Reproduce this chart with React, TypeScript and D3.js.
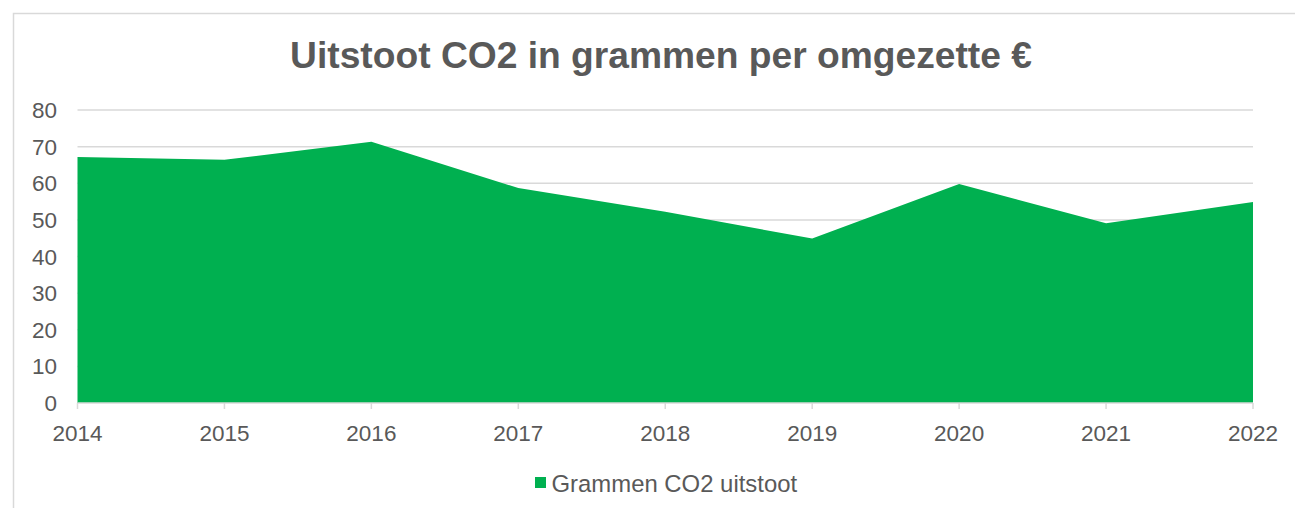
import React from 'react';
import * as d3 from 'd3';

const years = ['2014', '2015', '2016', '2017', '2018', '2019', '2020', '2021', '2022'];
const emissions = [67.2, 66.4, 71.3, 58.7, 52.2, 44.9, 59.8, 49.1, 54.9];
const yTicks = [0, 10, 20, 30, 40, 50, 60, 70, 80];

const title = 'Uitstoot CO2 in grammen per omgezette €';
const seriesName = 'Grammen CO2 uitstoot';

const width = 1295;
const height = 508;
const margin = { left: 77.5, right: 42, top: 110, bottom: 105 };

const textColor = '#595959';
const gridColor = '#d9d9d9';
const green = '#00b050';
const font = '"Liberation Sans", Arial, sans-serif';

const App = () => {
  const x = d3
    .scalePoint()
    .domain(years)
    .range([margin.left, width - margin.right]);

  const y = d3
    .scaleLinear()
    .domain([0, 80])
    .range([height - margin.bottom, margin.top]);

  const points = years.map((year, i) => ({ year, value: emissions[i] }));

  const area = d3
    .area<{ year: string; value: number }>()
    .x((d) => x(d.year) as number)
    .y0(y(0))
    .y1((d) => y(d.value));

  const plotRight = width - margin.right;
  const legendX = 535;

  return (
    <div style={{ position: 'fixed', left: 0, top: 0 }}>
      <svg width={width} height={height} style={{ display: 'block', background: '#fff' }}>
        {/* chart frame, runs off the right and bottom edge */}
        <rect x={13.5} y={13.5} width={1400} height={600} fill="#fff" stroke={gridColor} strokeWidth={1.5} />

        <text
          x={661}
          y={68}
          textAnchor="middle"
          fontFamily={font}
          fontWeight="bold"
          fontSize={37.2}
          fill={textColor}
        >
          {title}
        </text>

        {yTicks.map((t) => (
          <g key={t}>
            {t > 0 && (
              <line
                x1={margin.left}
                x2={plotRight}
                y1={y(t)}
                y2={y(t)}
                stroke={gridColor}
                strokeWidth={1.5}
              />
            )}
            <text
              x={57}
              y={y(t)}
              dy="0.36em"
              textAnchor="end"
              fontFamily={font}
              fontSize={22.5}
              fill={textColor}
            >
              {t}
            </text>
          </g>
        ))}

        <path d={area(points) || ''} fill={green} />

        <line
          x1={margin.left}
          x2={plotRight}
          y1={y(0)}
          y2={y(0)}
          stroke={gridColor}
          strokeWidth={1.5}
        />

        {years.map((year) => (
          <g key={year}>
            <line
              x1={x(year)}
              x2={x(year)}
              y1={y(0)}
              y2={y(0) + 6}
              stroke={gridColor}
              strokeWidth={1.5}
            />
            <text
              x={x(year)}
              y={441}
              textAnchor="middle"
              fontFamily={font}
              fontSize={22.5}
              fill={textColor}
            >
              {year}
            </text>
          </g>
        ))}

        <rect x={legendX} y={477} width={11} height={11} fill={green} />
        <text x={legendX + 16.5} y={492} fontFamily={font} fontSize={23.9} fill={textColor}>
          {seriesName}
        </text>
      </svg>
    </div>
  );
};

export default App;
